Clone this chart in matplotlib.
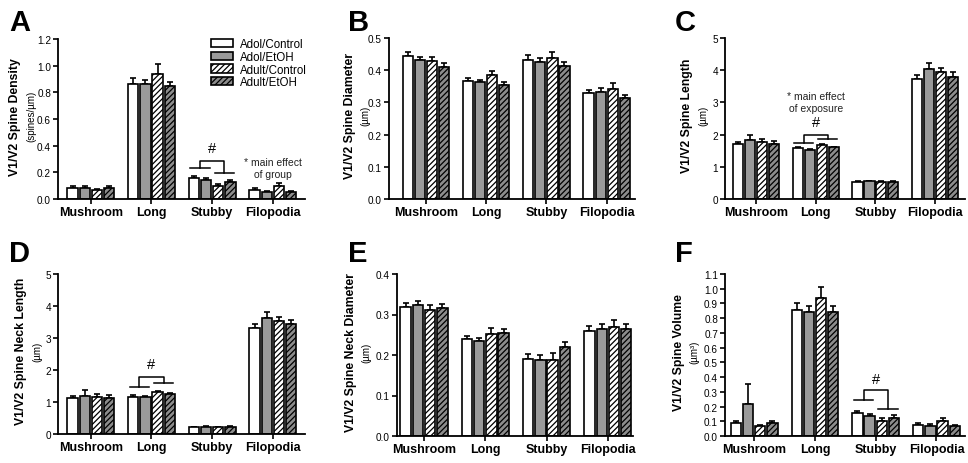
import numpy as np
import matplotlib.pyplot as plt
from matplotlib.transforms import blended_transform_factory

plt.rcParams['font.family'] = ['Liberation Sans', 'DejaVu Sans']
plt.rcParams['hatch.linewidth'] = 0.9

categories = ['Mushroom', 'Long', 'Stubby', 'Filopodia']
groups = ['Adol/Control', 'Adol/EtOH', 'Adult/Control', 'Adult/EtOH']

# values per category: [Adol/Control, Adol/EtOH, Adult/Control, Adult/EtOH]
density_mean = [[0.085, 0.085, 0.065, 0.085], [0.86, 0.86, 0.935, 0.845],
                [0.155, 0.14, 0.095, 0.13], [0.068, 0.052, 0.097, 0.052]]
density_err = [[0.015, 0.012, 0.012, 0.010], [0.045, 0.035, 0.075, 0.035],
               [0.018, 0.015, 0.020, 0.013], [0.012, 0.010, 0.020, 0.010]]

diameter_mean = [[0.445, 0.432, 0.428, 0.41], [0.368, 0.362, 0.385, 0.355],
                 [0.432, 0.425, 0.437, 0.413], [0.328, 0.333, 0.342, 0.313]]
diameter_err = [[0.012, 0.010, 0.014, 0.011], [0.009, 0.008, 0.014, 0.009],
                [0.016, 0.012, 0.020, 0.013], [0.012, 0.012, 0.018, 0.010]]

length_mean = [[1.70, 1.83, 1.77, 1.72], [1.57, 1.53, 1.68, 1.60],
               [0.54, 0.55, 0.54, 0.54], [3.72, 4.03, 3.93, 3.79]]
length_err = [[0.08, 0.15, 0.10, 0.07], [0.03, 0.03, 0.04, 0.03],
              [0.02, 0.02, 0.02, 0.02], [0.14, 0.20, 0.13, 0.14]]

neck_len_mean = [[1.12, 1.20, 1.15, 1.14], [1.17, 1.16, 1.32, 1.26],
                 [0.21, 0.22, 0.21, 0.22], [3.30, 3.62, 3.54, 3.45]]
neck_len_err = [[0.08, 0.17, 0.09, 0.08], [0.04, 0.03, 0.03, 0.03],
                [0.02, 0.02, 0.02, 0.02], [0.13, 0.20, 0.13, 0.12]]

neck_diam_mean = [[0.318, 0.324, 0.31, 0.317], [0.24, 0.235, 0.252, 0.255],
                  [0.19, 0.188, 0.187, 0.219], [0.259, 0.264, 0.268, 0.265]]
neck_diam_err = [[0.010, 0.010, 0.013, 0.008], [0.008, 0.007, 0.015, 0.008],
                 [0.012, 0.011, 0.017, 0.012], [0.013, 0.013, 0.018, 0.011]]

volume_mean = [[0.085, 0.22, 0.065, 0.09], [0.855, 0.845, 0.935, 0.845],
               [0.155, 0.135, 0.10, 0.125], [0.075, 0.07, 0.105, 0.065]]
volume_err = [[0.015, 0.13, 0.010, 0.010], [0.045, 0.040, 0.075, 0.035],
              [0.018, 0.015, 0.020, 0.015], [0.012, 0.012, 0.018, 0.008]]

# bar styles for the four groups
faces = ['white', '#9a9a9a', 'white', '#8c8c8c']
hatches = [None, None, '//////', '//////']

W, H = 968, 464
fig = plt.figure(figsize=(W / 100, H / 100), dpi=100)


def px_rect(l, t, r, b):
    return [l / W, 1 - b / H, (r - l) / W, (b - t) / H]


# letter, axes box (px), label, unit, mean, err, ymax, ystep, fmt, xlim, label x, unit x, letter pos
panels = [
    ('A', (58, 40, 305, 200), 'V1/V2 Spine Density', '(spines/µm)', density_mean, density_err,
     1.2, 0.2, '{:.1f}', (-0.54, 3.53), 15, 31, (9, 9)),
    ('B', (389, 39, 635, 200), 'V1/V2 Spine Diameter', '(µm)', diameter_mean, diameter_err,
     0.5, 0.1, '{:.1f}', (-0.61, 3.47), 350, 365, (348, 9)),
    ('C', (725, 39, 965, 200), 'V1/V2 Spine Length', '(µm)', length_mean, length_err,
     5, 1, '{:.0f}', (-0.52, 3.5), 687, 703, (675, 9)),
    ('D', (58, 275, 305, 435), 'V1/V2 Spine Neck Length', '(µm)', neck_len_mean, neck_len_err,
     5, 1, '{:.0f}', (-0.54, 3.53), 21, 37, (9, 240)),
    ('E', (397, 275, 633, 437), 'V1/V2 Spine Neck Diameter', '(µm)', neck_diam_mean, neck_diam_err,
     0.4, 0.1, '{:.1f}', (-0.44, 3.41), 351, 366, (348, 240)),
    ('F', (725, 275, 965, 437), 'V1/V2 Spine Volume', '(µm³)', volume_mean, volume_err,
     1.1, 0.1, '{:.1f}', (-0.48, 3.47), 679, 694, (675, 240)),
]

# significance brackets: category index, left level, right level, top level, '#' height
brackets = {'A': (2, 0.233, 0.195, 0.285, 0.38),
            'C': (1, 1.74, 1.86, 1.99, 2.39),
            'D': (1, 1.47, 1.60, 1.78, 2.19),
            'F': (2, 0.245, 0.18, 0.31, 0.39)}
notes = {'A': (3, 0.235, '* main effect\nof group'),
         'C': (1, 3.02, '* main effect\nof exposure')}

pitch = 0.2
bw = 0.17
offsets = (np.arange(4) - 1.5) * pitch
x = np.arange(len(categories))

for (letter, box, label, unit, mean, err, ymax, ystep, fmt, xlim,
     lx, ux, lpos) in panels:
    ax = fig.add_axes(px_rect(*box))
    mean = np.array(mean)
    err = np.array(err)
    bars = []
    for g in range(4):
        b = ax.bar(x + offsets[g], mean[:, g], width=bw, color=faces[g],
                   edgecolor='black', linewidth=1.2, hatch=hatches[g],
                   label=groups[g], zorder=2)
        bars.append(b)
        ax.errorbar(x + offsets[g], mean[:, g],
                    yerr=[np.zeros(4), err[:, g]], fmt='none', ecolor='black',
                    elinewidth=1.2, capsize=2.5, capthick=1.2, zorder=1)
    ax.set_xlim(*xlim)
    ax.set_ylim(0, ymax)
    yt = np.arange(0, ymax + ystep / 2, ystep)
    ax.set_yticks(yt)
    ax.set_yticklabels([fmt.format(v) for v in yt], fontsize=7.2)
    ax.set_xticks(x)
    ax.set_xticklabels(categories, fontsize=9, fontweight='bold')
    for s in ['top', 'right']:
        ax.spines[s].set_visible(False)
    for s in ['left', 'bottom']:
        ax.spines[s].set_linewidth(1.3)
    ax.tick_params(axis='both', direction='out', length=3.5, width=1.2, pad=1.5)

    tr = blended_transform_factory(fig.transFigure, ax.transAxes)
    ax.text(lx / W, 0.52, label, transform=tr, rotation=90, ha='center',
            va='center', fontsize=8.8, fontweight='bold')
    ax.text(ux / W, 0.52, unit, transform=tr, rotation=90, ha='center',
            va='center', fontsize=7)
    fig.text(lpos[0] / W, 1 - lpos[1] / H, letter, fontsize=21,
             fontweight='bold', ha='left', va='top')

    if letter in brackets:
        c, yl, yr, ytop, yh = brackets[letter]
        xl = c + offsets[:2].mean()
        xr = c + offsets[2:].mean()
        hw = 0.16
        kw = dict(color='black', lw=1.1, zorder=3)
        ax.plot([xl - hw, xl + hw], [yl, yl], **kw)
        ax.plot([xr - hw, xr + hw], [yr, yr], **kw)
        ax.plot([xl, xl, xr, xr], [yl, ytop, ytop, yr], **kw)
        ax.text(c, yh, '#', ha='center', va='center', fontsize=10.5)

    if letter in notes:
        c, ny, txt = notes[letter]
        ax.text(c, ny, txt, ha='center', va='center', fontsize=7.5,
                linespacing=1.25, color='#222222')

    if letter == 'A':
        ax.legend(handles=bars, loc='upper right', bbox_to_anchor=(1.03, 1.04),
                  frameon=False, fontsize=8.3, handlelength=1.9,
                  handleheight=0.7, handletextpad=0.6, labelspacing=0.05,
                  borderpad=0)

fig.savefig('out.png', dpi=100)
